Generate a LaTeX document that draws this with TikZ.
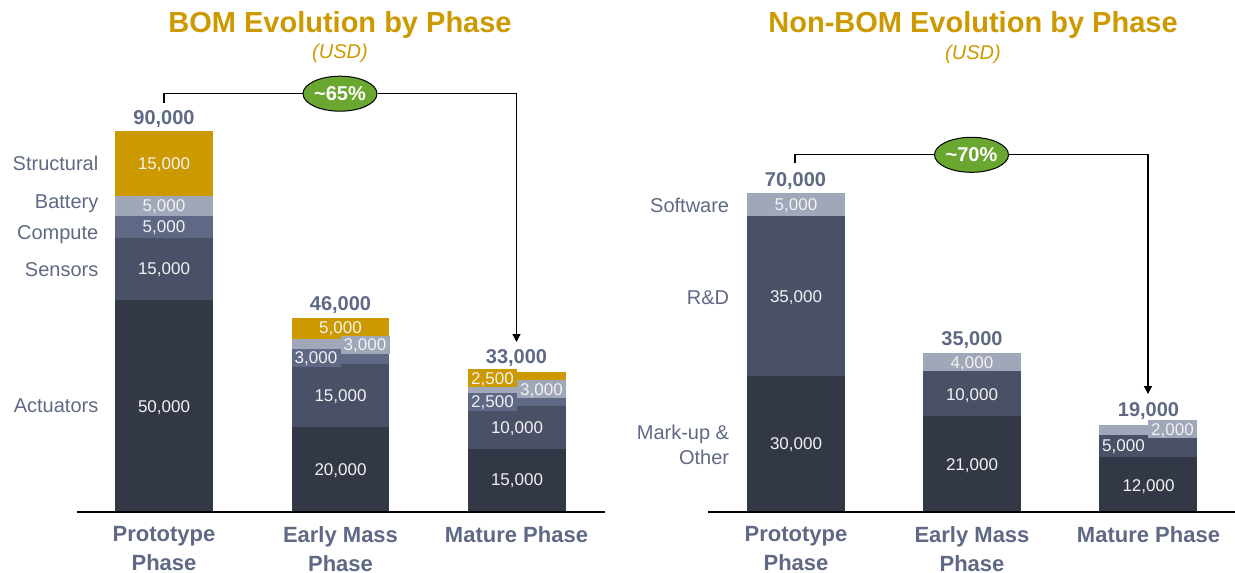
\documentclass[tikz,border=0pt]{standalone}
\usepackage{fontspec}
\setmainfont{Liberation Sans}
\usetikzlibrary{arrows.meta,shapes.geometric}
\definecolor{gold}{HTML}{CC9900}
\definecolor{batt}{HTML}{A0A7B9}
\definecolor{comp}{HTML}{5F6985}
\definecolor{sens}{HTML}{4A5166}
\definecolor{act}{HTML}{333847}
\definecolor{txt}{HTML}{5F6985}
\definecolor{grn}{HTML}{6AA730}
\definecolor{wt}{HTML}{F2F2F2}
\begin{document}
\begin{tikzpicture}[x=1pt,y=-1pt,
  cat/.style={font=\fontsize{20}{23}\selectfont, text=txt, anchor=east, inner sep=0pt, text height=14.3pt, text depth=0pt, align=right},
  cattwo/.style={font=\fontsize{20}{25}\selectfont, text=txt, anchor=north east, inner sep=0pt, align=right},
  val/.style={font=\fontsize{17}{20}\selectfont, text=wt, inner sep=0pt, text height=12.2pt, text depth=0pt},
  vbox/.style={val, minimum width=49pt, minimum height=18pt},
  tot/.style={font=\bfseries\fontsize{20}{23}\selectfont, text=txt, inner sep=0pt, text height=14.3pt, text depth=0pt},
  axl/.style={font=\bfseries\fontsize{22}{29}\selectfont, text=txt, align=center, inner sep=0pt, anchor=north},
  pct/.style={ellipse, draw=black, line width=1pt, fill=grn, text=white, font=\bfseries\fontsize{20}{23}\selectfont, minimum width=74pt, minimum height=35pt, inner sep=0pt},
  ttl/.style={font=\bfseries\fontsize{29}{34}\selectfont, text=gold, inner sep=0pt, text height=20.8pt, text depth=0pt},
  usd/.style={font=\itshape\fontsize{20}{23}\selectfont, text=gold, inner sep=0pt, text height=14.3pt, text depth=0pt},
  conn/.style={draw=black, line width=1.2pt},
  base/.style={draw=black, line width=1.2pt}]
\useasboundingbox (0,0) rectangle (1235,573);

% ---------------- BOM chart ----------------
\node[ttl] (t1) at (340,22.5) {BOM Evolution by Phase};
\node[usd] (u1) at (340,51) {(USD)};

% bar 1
\fill[act]  (115,512) rectangle (213,300);
\fill[sens] (115,300) rectangle (213,238);
\fill[comp] (115,238) rectangle (213,216);
\fill[batt] (115,216) rectangle (213,196);
\fill[gold] (115,196) rectangle (213,131);
% bar 2
\fill[act]  (292,512) rectangle (389,427);
\fill[sens] (292,427) rectangle (389,364);
\fill[comp] (292,364) rectangle (389,351.5);
\fill[batt] (292,351.5) rectangle (389,339);
\fill[gold] (292,339) rectangle (389,317.5);
% bar 3
\fill[act]  (468,512) rectangle (566,448.5);
\fill[sens] (468,448.5) rectangle (566,406);
\fill[comp] (468,406) rectangle (566,395.5);
\fill[batt] (468,395.5) rectangle (566,383);
\fill[gold] (468,383) rectangle (566,372);

\draw[base] (77,512) -- (605,512);

% category labels
\node[cat] (lstr) at (98.5,163.5) {Structural};
\node[cat] (lbat) at (98.5,201.5) {Battery};
\node[cat] (lcom) at (98.5,232) {Compute};
\node[cat] (lsen) at (98.5,269) {Sensors};
\node[cat] (lact) at (98.5,405.7) {Actuators};

% values bar 1
\node[val] (a1) at (164,163.3) {15,000};
\node[val] (a2) at (164,205.5) {5,000};
\node[val] (a3) at (164,226.3) {5,000};
\node[val] (a4) at (164,268.8) {15,000};
\node[val] (a5) at (164,406.3) {50,000};
% values bar 2
\node[val] (b1) at (340.5,327) {5,000};
\node[vbox, fill=batt] (b2) at (365,344.5) {3,000};
\node[vbox, fill=comp] (b3) at (316,357.5) {3,000};
\node[val] (b4) at (340.5,395) {15,000};
\node[val] (b5) at (340.5,469.7) {20,000};
% values bar 3
\node[vbox, fill=gold] (c1) at (492.5,378) {2,500};
\node[vbox, fill=batt] (c2) at (541.5,389) {3,000};
\node[vbox, fill=comp] (c3) at (492.5,401.5) {2,500};
\node[val] (c4) at (517,427.3) {10,000};
\node[val] (c5) at (517,479.7) {15,000};

% totals
\node[tot] (s1) at (164,117) {90,000};
\node[tot] (s2) at (340.5,303.7) {46,000};
\node[tot] (s3) at (516.5,356.7) {33,000};

% axis labels
\node[axl] (x1) at (164,526) {Prototype\\Phase};
\node[axl] (x2) at (340.5,526) {Early Mass\\Phase};
\node[axl] (x3) at (516.5,526) {Mature Phase};

% bracket
\node[pct] (p1) at (340,93.7) {\textasciitilde65\%};
\coordinate (k1) at (164,103);
\coordinate (k2) at (516.5,342);
\draw[conn] (k1) |- (p1.west);
\draw[conn, -{Triangle[length=8pt,width=8pt]}] (p1.east) -| (k2);

% ---------------- Non-BOM chart ----------------
\node[ttl] (t2) at (973,22.5) {Non-BOM Evolution by Phase};
\node[usd] (u2) at (973,52) {(USD)};

% bar 1
\fill[act]  (747,512) rectangle (845,375.5);
\fill[sens] (747,375.5) rectangle (845,216);
\fill[batt] (747,216) rectangle (845,193);
% bar 2
\fill[act]  (923,512) rectangle (1021,416.3);
\fill[sens] (923,416.3) rectangle (1021,370.7);
\fill[batt] (923,370.7) rectangle (1021,352.5);
% bar 3
\fill[act]  (1099,512) rectangle (1197,457.3);
\fill[sens] (1099,457.3) rectangle (1197,434.5);
\fill[batt] (1099,434.5) rectangle (1197,425.4);

\draw[base] (708,512) -- (1235,512);

\node[cat] (rsof) at (729.3,205.5) {Software};
\node[cat] (rrd) at (729.3,297) {R\&D};
\node[cattwo] (rmk) at (729.3,424.7) {Mark-up \&\\Other};

\node[val] (d1) at (796,204.5) {5,000};
\node[val] (d2) at (796,296) {35,000};
\node[val] (d3) at (796,443.3) {30,000};

\node[val] (e1) at (972,362) {4,000};
\node[val] (e2) at (972,394) {10,000};
\node[val] (e3) at (972,464) {21,000};

\node[vbox, fill=batt] (f1) at (1172.5,429) {2,000};
\node[vbox, fill=sens, minimum height=20pt] (f2) at (1123.5,445.5) {5,000};
\node[val] (f3) at (1148.5,485) {12,000};

\node[tot] (r1) at (795.5,179.3) {70,000};
\node[tot] (r2) at (972,338.8) {35,000};
\node[tot] (r3) at (1148.5,409.7) {19,000};

\node[axl] (y1) at (796,526) {Prototype\\Phase};
\node[axl] (y2) at (972,526) {Early Mass\\Phase};
\node[axl] (y3) at (1148.5,526) {Mature Phase};

\node[pct] (p2) at (971.5,154.8) {\textasciitilde70\%};
\coordinate (m1) at (795,163);
\coordinate (m2) at (1148,394);
\draw[conn] (m1) |- (p2.west);
\draw[conn, -{Triangle[length=8pt,width=8pt]}] (p2.east) -| (m2);
\end{tikzpicture}
\end{document}
